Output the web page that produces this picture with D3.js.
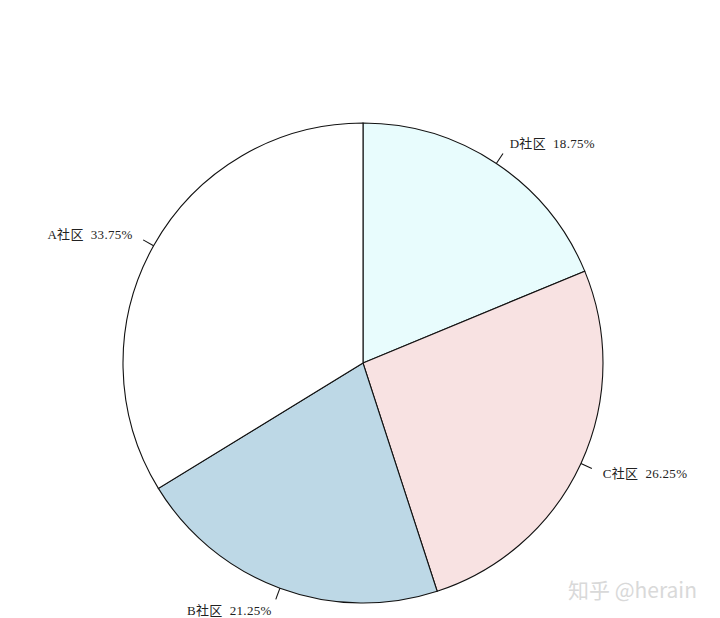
<!DOCTYPE html>
<html>
<head>
<meta charset="utf-8">
<script src="https://cdn.jsdelivr.net/npm/d3@7"></script>
<style>
  body { margin: 0; background: #fff; }
</style>
</head>
<body>
<script>
// 数据（顺时针，从12点方向开始）
const categories = ["D社区", "C社区", "B社区", "A社区"];
const shares = [18.75, 26.25, 21.25, 33.75];
const sliceColors = ["#E8FCFD", "#F8E2E2", "#BDD8E6", "#FFFFFF"];

const width = 720, height = 618;
const cx = 363, cy = 363, radius = 240;

const svg = d3.select("body").append("svg")
    .attr("width", width)
    .attr("height", height);

const g = svg.append("g").attr("transform", `translate(${cx},${cy})`);

const data = categories.map((c, i) => ({ name: c, value: shares[i], color: sliceColors[i] }));

const pie = d3.pie().sort(null).value(d => d.value);
const arcs = pie(data);

const arc = d3.arc().innerRadius(0).outerRadius(radius);

// 扇形
g.selectAll("path.slice")
    .data(arcs)
    .enter().append("path")
    .attr("class", "slice")
    .attr("d", arc)
    .attr("fill", d => d.data.color)
    .attr("stroke", "#111")
    .attr("stroke-width", 1.1);

// 刻度线和标签
const mid = d => (d.startAngle + d.endAngle) / 2;
g.selectAll("line.tick")
    .data(arcs)
    .enter().append("line")
    .attr("x1", d => radius * Math.sin(mid(d)))
    .attr("y1", d => -radius * Math.cos(mid(d)))
    .attr("x2", d => radius * 1.05 * Math.sin(mid(d)))
    .attr("y2", d => -radius * 1.05 * Math.cos(mid(d)))
    .attr("stroke", "#111")
    .attr("stroke-width", 1.1);

g.selectAll("text.lbl")
    .data(arcs)
    .enter().append("text")
    .attr("x", d => radius * 1.1 * Math.sin(mid(d)))
    .attr("y", d => -radius * 1.1 * Math.cos(mid(d)))
    .attr("dy", "0.35em")
    .attr("text-anchor", d => Math.sin(mid(d)) >= 0 ? "start" : "end")
    .attr("font-family", "'Liberation Serif', 'Noto Sans CJK SC', serif")
    .attr("font-size", 13)
    .attr("letter-spacing", 0.3)
    .attr("fill", "#222")
    .style("white-space", "pre")
    .text(d => d.data.name + "  " + d.data.value.toFixed(2) + "%");

// 水印
svg.append("text")
    .attr("x", 568)
    .attr("y", 598)
    .attr("font-family", "'Noto Sans CJK SC', 'Noto Sans', sans-serif")
    .attr("font-size", 21)
    .attr("fill", "#d9d9d9")
    .text("知乎 @herain");
</script>
</body>
</html>
